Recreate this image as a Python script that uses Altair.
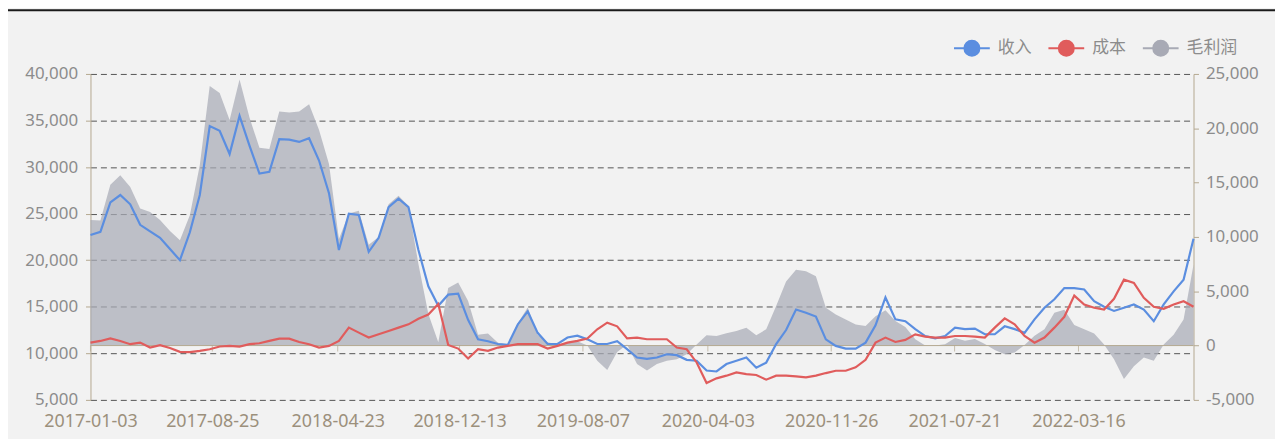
import altair as alt
import pandas as pd

start_date = "2017-01-03"
end_date = "2022-10-23"

revenue = [22700, 23050, 26200, 27000, 26000, 23800, 23100, 22400, 21200, 20000,
           23000, 27000, 34400, 33900, 31400, 35500, 32300, 29300, 29500, 33000,
           32950, 32700, 33100, 30700, 27200, 21100, 25000, 24850, 20900, 22400,
           25700, 26600, 25700, 21100, 17200, 15100, 16300, 16400, 13600, 11500,
           11300, 11000, 10900, 13100, 14500, 12200, 11000, 11000, 11700, 11900,
           11500, 11000, 11000, 11300, 10450, 9550, 9400, 9550, 9900, 9800,
           9300, 9200, 8150, 8050, 8850, 9200, 9550, 8450, 9000, 11000,
           12500, 14700, 14350, 13950, 11500, 10800, 10500, 10500, 11150, 13000,
           16000, 13650, 13450, 12600, 11850, 11600, 11850, 12750, 12600, 12650,
           12050, 12050, 12900, 12600, 12200, 13650, 14900, 15800, 17000, 17000,
           16850, 15600, 15000, 14550, 14900, 15250, 14700, 13450, 15250, 16650,
           17900, 22300]

cost = [11150, 11330, 11600, 11330, 10980, 11150, 10620, 10870, 10580, 10160,
        10120, 10260, 10440, 10730, 10800, 10730, 10980, 11080, 11330, 11580,
        11580, 11220, 10980, 10620, 10800, 11330, 12760, 12220, 11690, 12040,
        12400, 12760, 13110, 13710, 14170, 15300, 10900, 10510, 9450, 10440,
        10260, 10620, 10800, 10980, 10980, 10980, 10510, 10800, 11150, 11330,
        11580, 12580, 13290, 12900, 11600, 11690, 11510, 11510, 11510, 10620,
        10440, 9020, 6820, 7310, 7600, 7950, 7770, 7670, 7170, 7600,
        7600, 7530, 7420, 7600, 7880, 8130, 8130, 8490, 9300, 11150,
        11690, 11220, 11440, 12040, 11790, 11690, 11690, 11860, 11860, 11790,
        11690, 12760, 13750, 13110, 11860, 11150, 11690, 12760, 13920, 16200,
        15240, 14890, 14710, 15850, 17910, 17560, 15960, 15000, 14780, 15240,
        15600, 15000]

gross = [11550, 11500, 14800, 15670, 14600, 12620, 12300, 11550, 10550, 9700,
         12000, 16600, 23900, 23250, 20750, 24500, 21000, 18200, 18100, 21550,
         21450, 21550, 22200, 19850, 16700, 9800, 12150, 12400, 9270, 10000,
         13000, 13800, 12850, 7500, 2900, 300, 5300, 5800, 4100, 1000,
         1100, 250, 100, 2050, 3500, 1000, 300, 100, 300, 400,
         0, -1400, -2250, -600, 100, -1700, -2300, -1700, -1400, -1250,
         -800, 100, 950, 880, 1130, 1340, 1650, 950, 1490, 3630,
         5900, 6980, 6830, 6370, 3480, 2850, 2410, 1950, 1800, 2700,
         3260, 2250, 1700, 580, 0, 0, 120, 700, 450, 600,
         150, -400, -800, -650, 50, 900, 1500, 3020, 3300, 1900,
         1490, 1100, 100, -1250, -3080, -1900, -1100, -1400, 100, 1000,
         2410, 7440]

tick_dates = ["2017-01-03", "2017-08-25", "2018-04-23", "2018-12-13", "2019-08-07",
              "2020-04-03", "2020-11-26", "2021-07-21", "2022-03-16"]
left_ticks = [5000, 10000, 15000, 20000, 25000, 30000, 35000, 40000]
right_ticks = [-5000, 0, 5000, 10000, 15000, 20000, 25000]
series_names = ["收入", "成本", "毛利润"]
series_colors = ["#5b8ee0", "#e05c5c", "#a8aab5"]

TAN = "#b4a890"
LABEL_GRAY = "#8c8c8c"
XLABEL = "#9c907c"
NUM_EXPR = "replace(format(datum.value, ','), '\u2212', '-')"

dates = pd.date_range(start_date, end_date, periods=len(revenue))
lines_df = pd.concat([
    pd.DataFrame({"date": dates, "series": "收入", "value": revenue}),
    pd.DataFrame({"date": dates, "series": "成本", "value": cost}),
])
area_df = pd.DataFrame({"date": dates, "series": "毛利润", "value": gross})
tick_df = pd.DataFrame({"date": pd.to_datetime(tick_dates)})
legend_df = pd.DataFrame({"series": series_names})


def dt(s):
    y, m, d = (int(p) for p in s.split("-"))
    return alt.DateTime(year=y, month=m, date=d)


x_scale = alt.Scale(domain=[dt(start_date), dt(end_date)])
x_axis = alt.Axis(values=[dt(s) for s in tick_dates], format="%Y-%m-%d", formatType="time",
                  title=None, domain=False, ticks=False, grid=False, labelFlush=False,
                  labelOverlap=False, labelFontSize=18, labelColor=XLABEL, labelPadding=13,
                  labelFont="Noto Sans")

# mark colour scale (domain order differs from the legend scales so they stay separate)
color_scale = alt.Scale(domain=series_names[::-1], range=series_colors[::-1])
legend = alt.Legend(
    title=None, orient="none", direction="horizontal", legendX=868, legendY=-45,
    symbolType="M-1,0L1,0M-0.42,0A0.42,0.42,0,1,0,0.42,0A0.42,0.42,0,1,0,-0.42,0Z",
    symbolSize=1296, symbolStrokeWidth=2, symbolOpacity=1,
    labelFont="Noto Sans CJK SC", labelFontSize=17, labelColor=LABEL_GRAY,
    labelOffset=7, columnPadding=13,
)

right_axis = alt.Axis(orient="right", values=right_ticks, title=None, grid=False,
                      labelExpr=NUM_EXPR,
                      labelFontSize=17, labelColor=LABEL_GRAY, labelFont="Noto Sans",
                      domainColor=TAN, tickColor=TAN, tickSize=5, labelPadding=7)
right_scale = alt.Scale(domain=[-5000, 25000], nice=False, zero=False)

area = alt.Chart(area_df).mark_area(opacity=0.72).encode(
    x=alt.X("date:T", scale=x_scale, axis=x_axis),
    y=alt.Y("value:Q", scale=right_scale, axis=right_axis),
    y2=alt.datum(0),
    color=alt.Color("series:N", scale=color_scale, legend=None),
)

zero_rule = alt.Chart(alt.Data(values=[{}])).mark_rule(color=TAN, strokeWidth=1).encode(
    y=alt.datum(0)
)

zero_ticks = alt.Chart(tick_df).mark_tick(orient="vertical", size=6, thickness=1,
                                          color=TAN, yOffset=3).encode(
    x=alt.X("date:T", scale=x_scale, axis=x_axis),
    y=alt.datum(0),
)

right_layer = alt.layer(area, zero_rule, zero_ticks)

left_axis = alt.Axis(orient="left", values=left_ticks, labelExpr=NUM_EXPR, title=None,
                     labelFontSize=17, labelColor=LABEL_GRAY, labelFont="Noto Sans",
                     domainColor=TAN, tickColor=TAN, tickSize=5, labelPadding=8,
                     grid=True, gridColor="#555555", gridDash=[6, 4], gridWidth=1)
left_scale = alt.Scale(domain=[5000, 40000], nice=False, zero=False)

lines = alt.Chart(lines_df).mark_line(strokeWidth=2.2).encode(
    x=alt.X("date:T", scale=x_scale, axis=x_axis),
    y=alt.Y("value:Q", scale=left_scale, axis=left_axis),
    color=alt.Color("series:N", scale=color_scale, legend=None),
)

# invisible carrier for a combined fill + stroke legend
legend_layer = alt.Chart(legend_df).mark_point(filled=True, opacity=0).encode(
    fill=alt.Fill("series:N", scale=alt.Scale(domain=series_names, range=series_colors),
                  legend=legend),
    stroke=alt.Stroke("series:N", scale=alt.Scale(domain=series_names, range=series_colors),
                      legend=legend),
)

border = alt.Chart(alt.Data(values=[{}])).mark_rule(color="#1a1a1a", strokeWidth=2).encode(
    x=alt.value(-83), x2=alt.value(1192), y=alt.value(-64)
)

chart = alt.layer(right_layer, lines, legend_layer, border).resolve_scale(
    y="independent").properties(
    width=1110, height=328,
    padding={"left": 83, "top": 65, "right": 82, "bottom": 38},
    autosize=alt.AutoSizeParams(type="none"),
    background="#f2f2f2",
).configure_view(stroke=None)

chart.save("out.html", embed_options={"renderer": "svg", "actions": False})
